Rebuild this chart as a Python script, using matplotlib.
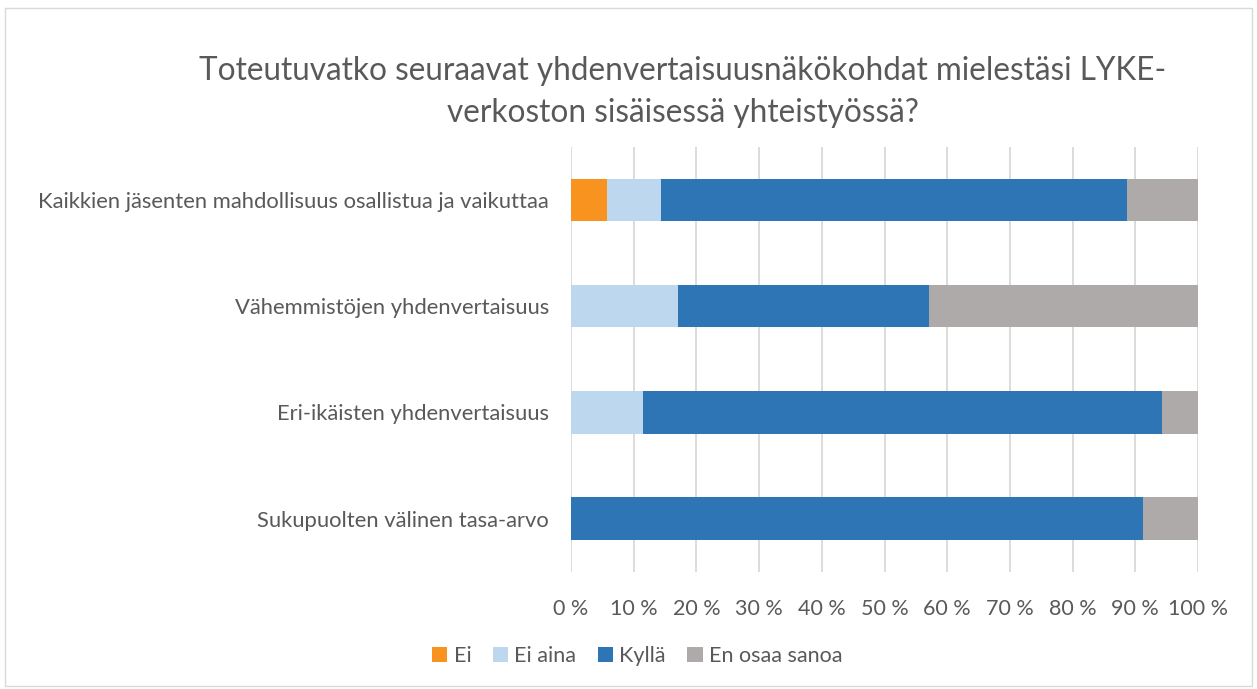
import matplotlib
matplotlib.use("Agg")
import matplotlib.pyplot as plt
from matplotlib.patches import Rectangle
from matplotlib.ticker import FuncFormatter, MultipleLocator

categories = [
    "Kaikkien jäsenten mahdollisuus osallistua ja vaikuttaa",
    "Vähemmistöjen yhdenvertaisuus",
    "Eri-ikäisten yhdenvertaisuus",
    "Sukupuolten välinen tasa-arvo",
]
series_names = ["Ei", "Ei aina", "Kyllä", "En osaa sanoa"]
ei = [5.7, 0.0, 0.0, 0.0]
ei_aina = [8.6, 17.1, 11.4, 0.0]
kylla = [74.3, 40.0, 82.9, 91.2]
en_osaa = [11.4, 42.9, 5.7, 8.8]
colors = ["#F7931E", "#BDD7EE", "#2E75B6", "#AEAAAA"]
title = "Toteutuvatko seuraavat yhdenvertaisuusnäkökohdat mielestäsi LYKE-\nverkoston sisäisessä yhteistyössä?"

plt.rcParams['font.family'] = ['Lato', 'DejaVu Sans']
text_color = "#595959"

fig = plt.figure(figsize=(12.57, 6.89), dpi=100)
ax = fig.add_axes([0.4543, 0.1704, 0.4988, 0.6162])

ypos = list(range(len(categories)))
left = [0.0] * len(categories)
for name, vals, c in zip(series_names, [ei, ei_aina, kylla, en_osaa], colors):
    ax.barh(ypos, vals, left=left, height=0.4, color=c, label=name, zorder=3)
    left = [l + v for l, v in zip(left, vals)]

ax.set_xlim(0, 100)
ax.set_ylim(len(categories) - 0.5, -0.5)
ax.set_yticks(ypos)
ax.set_yticklabels(categories, fontsize=15.8, color=text_color)
ax.xaxis.set_major_locator(MultipleLocator(10))
ax.xaxis.set_major_formatter(FuncFormatter(lambda v, p: f"{int(round(v))} %"))
ax.tick_params(axis='x', labelsize=15.5, labelcolor=text_color, length=0, pad=20)
ax.tick_params(axis='y', length=0, pad=16)
ax.grid(axis='x', color="#D9D9D9", linewidth=1.3, zorder=0)
for s in ax.spines.values():
    s.set_visible(False)

fig.text(0.543, 0.866, title, ha='center', va='center', fontsize=22.7,
         color=text_color, linespacing=1.5)

handles, labels = ax.get_legend_handles_labels()
leg = fig.legend(handles, labels, loc='center', bbox_to_anchor=(0.507, 0.048),
                 ncol=4, frameon=False, fontsize=15.5, handlelength=0.7,
                 handleheight=0.7, handletextpad=0.3, columnspacing=1.0)
for t in leg.get_texts():
    t.set_color(text_color)

fig.patches.append(Rectangle((0.004, 0.004), 0.992, 0.985, transform=fig.transFigure,
                             fill=False, edgecolor="#D9D9D9", linewidth=1))

fig.savefig("out.png", dpi=100, facecolor="white")
